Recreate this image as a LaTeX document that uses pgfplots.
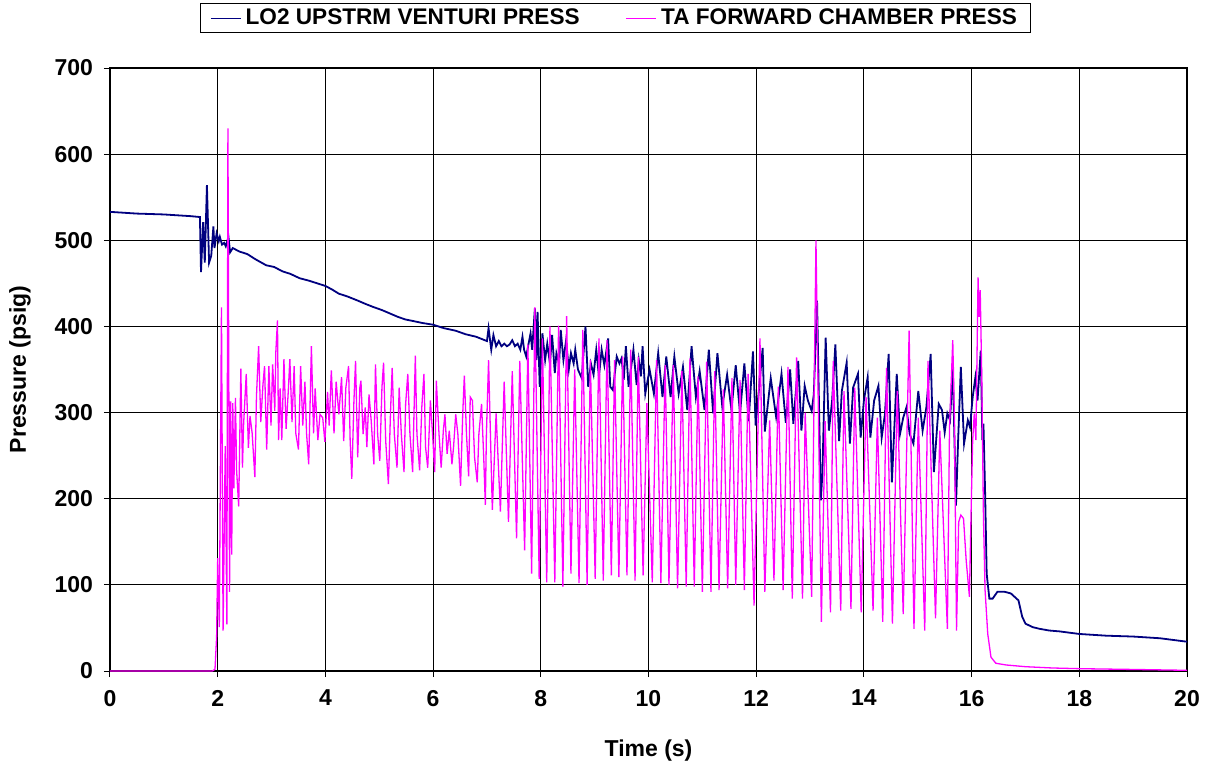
\documentclass[border=0pt]{standalone}
\usepackage{fontspec}
\setmainfont{Liberation Sans}
\usepackage{pgfplots}
\pgfplotsset{compat=1.18}

\definecolor{lox}{HTML}{000080}
\definecolor{tafwd}{HTML}{FF00FF}

\begin{document}
\begin{tikzpicture}
\begin{axis}[
  at={(0,0)}, anchor=south west,
  width=538.5pt, height=301.5pt, scale only axis,
  xmin=0, xmax=20, ymin=0, ymax=700,
  xtick={0,2,...,20}, ytick={0,100,...,700},
  grid=major, major grid style={black, line width=0.5pt},
  axis line style={black, line width=0.6pt},
  tick align=outside, tick pos=left, major tick length=3pt,
  tick style={black, line width=0.5pt},
  /pgf/number format/assume math mode=true,
  tick label style={font=\fontsize{11.5}{13}\selectfont\bfseries},
  xticklabel style={yshift=-3pt},
  yticklabel style={xshift=-2pt},
  xlabel={Time (s)}, ylabel={Pressure (psig)},
  label style={font=\fontsize{11.5}{13}\selectfont\bfseries},
  xlabel style={at={(axis description cs:0.5,-0.1327)}, anchor=center},
  ylabel style={at={(axis description cs:-0.0836,0.5)}, anchor=center},
  legend columns=2,
  legend style={at={(0.4694,1.107)}, anchor=north, draw=black, line width=0.5pt,
    inner xsep=5pt, inner ysep=0.5pt,
    nodes={inner sep=2pt},
    font=\fontsize{11.3}{12}\selectfont\bfseries,
    /tikz/every even column/.append style={column sep=21pt}},
  legend image code/.code={\draw[#1, line width=0.75pt] (0pt,0pt) -- (15pt,0pt);},
]
% LO2 upstream venturi pressure
\addplot[lox, line width=0.9pt] coordinates {
(0,533) (0.5,531) (1.0,530) (1.5,528) (1.67,527) (1.69,463) (1.73,521) (1.76,474) (1.80,564) (1.84,474)
(1.88,482) (1.92,516) (1.94,491) (1.98,508) (2.02,499) (2.04,504) (2.08,495) (2.12,497) (2.15,493) (2.20,504)
(2.23,486) (2.28,491) (2.40,487) (2.55,484) (2.70,478) (2.90,471) (3.05,469) (3.20,464) (3.35,461) (3.52,456)
(3.70,453) (3.85,450) (4.00,447) (4.12,443) (4.25,438) (4.40,435) (4.60,430) (4.75,426) (4.87,423) (5.05,419)
(5.20,415) (5.35,411) (5.49,408) (5.65,406) (5.80,404) (6.00,402) (6.20,398) (6.42,395) (6.60,391) (6.80,388)
(7.00,383) (7.03,398) (7.08,373) (7.12,390) (7.17,377) (7.22,383) (7.27,377) (7.32,380) (7.37,377) (7.42,379)
(7.47,384) (7.52,377) (7.57,380) (7.62,373) (7.66,388) (7.69,373) (7.73,365) (7.77,379) (7.81,392) (7.84,373)
(7.89,421) (7.92,361) (7.94,417) (7.98,330) (8.03,392) (8.08,361) (8.12,380) (8.17,357) (8.21,390) (8.26,346)
(8.29,369) (8.34,357) (8.37,396) (8.42,361) (8.47,384) (8.52,350) (8.56,369) (8.61,357) (8.64,373) (8.69,350)
(8.76,340) (8.83,400) (8.88,330) (8.93,357) (8.98,344) (9.03,373) (9.08,342) (9.13,373) (9.18,355) (9.25,386)
(9.29,330) (9.34,326) (9.41,365) (9.46,357) (9.50,363) (9.54,338) (9.58,377) (9.63,330) (9.72,373) (9.78,332)
(9.82,361) (9.86,342) (9.89,377) (9.94,322) (10.02,350) (10.10,322) (10.18,369) (10.26,318) (10.33,365) (10.41,318)
(10.48,365) (10.56,322) (10.64,353) (10.72,303) (10.80,377) (10.88,318) (10.95,348) (11.04,303) (11.12,373) (11.20,299)
(11.28,369) (11.37,307) (11.46,344) (11.54,303) (11.62,355) (11.70,299) (11.78,357) (11.86,290) (11.94,371) (11.99,285)
(12.12,375) (12.16,278) (12.27,340) (12.37,295) (12.47,345) (12.55,288) (12.63,350) (12.69,287) (12.78,360) (12.84,279)
(12.90,331) (12.96,314) (13.03,302) (13.07,321) (13.13,430) (13.20,198) (13.23,230) (13.29,387) (13.35,279) (13.41,314)
(13.47,379) (13.54,267) (13.59,325) (13.68,358) (13.74,264) (13.80,329) (13.89,345) (13.94,271) (14.00,314) (14.07,341)
(14.12,271) (14.19,314) (14.27,331) (14.33,271) (14.39,298) (14.46,368) (14.52,219) (14.61,345) (14.67,275) (14.73,294)
(14.79,306) (14.85,275) (14.92,264) (15.01,325) (15.09,279) (15.16,306) (15.24,368) (15.30,231) (15.39,310) (15.45,303)
(15.50,277) (15.55,299) (15.60,291) (15.65,353) (15.71,192) (15.75,268) (15.80,353) (15.86,264) (15.93,291) (15.97,283)
(16.02,318) (16.07,341) (16.11,314) (16.17,372) (16.20,268) (16.22,287) (16.25,210) (16.28,113) (16.33,84) (16.39,84)
(16.48,92) (16.61,92) (16.73,90) (16.87,82) (16.94,63) (17.00,55) (17.13,51) (17.26,49) (17.44,47) (17.63,46)
(18.0,43) (18.5,41) (19.0,40) (19.5,38) (20.0,34)
};
\addlegendentry{LO2 UPSTRM VENTURI PRESS}
% TA forward chamber pressure
\addplot[tafwd, line width=0.65pt] coordinates {
(0,0) (1.90,0) (1.95,2) (1.98,40) (2.00,131) (2.03,51) (2.07,422) (2.10,47) (2.14,261) (2.17,54)
(2.19,630) (2.22,92) (2.24,313) (2.26,135) (2.28,311) (2.30,212) (2.33,317) (2.35,234) (2.39,191) (2.43,351)
(2.46,236) (2.48,285) (2.53,345) (2.57,259) (2.60,296) (2.64,276) (2.69,225) (2.72,319) (2.76,377) (2.80,289)
(2.84,332) (2.87,354) (2.91,257) (2.95,354) (2.99,285) (3.02,356) (3.06,302) (3.08,371) (3.11,407) (3.13,268)
(3.16,328) (3.19,268) (3.23,362) (3.27,281) (3.31,324) (3.34,362) (3.38,289) (3.42,354) (3.45,276) (3.50,257)
(3.54,354) (3.58,285) (3.62,336) (3.65,276) (3.69,240) (3.74,377) (3.78,276) (3.81,328) (3.86,268) (3.90,298)
(3.95,294) (3.99,266) (4.04,324) (4.07,285) (4.11,349) (4.16,276) (4.20,336) (4.25,298) (4.30,341) (4.34,267)
(4.38,329) (4.43,354) (4.46,267) (4.49,223) (4.53,314) (4.56,360) (4.60,248) (4.64,329) (4.66,337) (4.70,275)
(4.74,306) (4.77,260) (4.81,321) (4.85,291) (4.90,240) (4.93,356) (4.97,275) (5.01,244) (5.05,329) (5.08,358)
(5.12,267) (5.17,217) (5.21,302) (5.24,352) (5.28,275) (5.33,236) (5.37,329) (5.41,275) (5.46,231) (5.49,310)
(5.53,345) (5.57,275) (5.62,231) (5.67,366) (5.70,275) (5.75,233) (5.79,306) (5.83,345) (5.86,260) (5.90,236)
(5.95,314) (5.99,275) (6.03,231) (6.06,337) (6.11,275) (6.15,236) (6.19,279) (6.22,298) (6.26,252) (6.30,279)
(6.35,240) (6.38,260) (6.42,298) (6.46,275) (6.51,215) (6.55,298) (6.58,343) (6.62,275) (6.66,226) (6.69,318)
(6.73,314) (6.77,248) (6.82,219) (6.85,275) (6.90,310) (6.94,248) (6.97,193) (6.99,275) (7.03,361) (7.10,187)
(7.17,299) (7.25,185) (7.32,336) (7.40,173) (7.47,348) (7.55,154) (7.61,360) (7.70,140) (7.76,379) (7.83,113)
(7.89,422) (7.97,107) (8.03,386) (8.11,103) (8.17,400) (8.26,103) (8.33,401) (8.41,98) (8.48,412) (8.56,113)
(8.63,350) (8.71,102) (8.78,396) (8.86,100) (8.92,361) (9.01,107) (9.08,386) (9.16,105) (9.23,384) (9.31,111)
(9.37,361) (9.45,109) (9.52,365) (9.60,111) (9.67,373) (9.75,105) (9.81,365) (9.90,111) (9.97,311) (10.07,103)
(10.15,361) (10.23,102) (10.31,355) (10.38,100) (10.46,355) (10.54,96) (10.62,348) (10.70,98) (10.77,363) (10.85,98)
(10.92,342) (11.00,92) (11.08,359) (11.16,92) (11.23,348) (11.31,94) (11.39,327) (11.47,96) (11.55,340) (11.62,100)
(11.70,338) (11.78,94) (11.85,345) (11.96,76) (12.07,386) (12.16,92) (12.25,291) (12.33,105) (12.41,330) (12.50,94)
(12.59,353) (12.67,84) (12.75,364) (12.86,84) (12.91,300) (13.03,86) (13.11,500) (13.21,57) (13.28,290) (13.38,68)
(13.43,360) (13.57,70) (13.63,325) (13.76,72) (13.83,329) (13.95,68) (14.04,318) (14.17,70) (14.25,294) (14.35,57)
(14.42,352) (14.53,55) (14.62,325) (14.73,66) (14.84,395) (14.93,49) (15.01,294) (15.13,47) (15.19,360) (15.33,61)
(15.41,279) (15.55,49) (15.59,283) (15.65,384) (15.68,299) (15.72,47) (15.76,173) (15.80,181) (15.85,177) (15.90,128)
(15.96,86) (15.99,183) (16.02,268) (16.05,299) (16.08,268) (16.12,457) (16.14,411) (16.16,442) (16.19,337) (16.22,179)
(16.25,94) (16.30,43) (16.36,16) (16.45,9) (16.64,7) (17.0,5) (17.5,3.5) (18,2.7) (19,1.8) (20,0.8)
};
\addlegendentry{TA FORWARD CHAMBER PRESS}
\end{axis}
\pgfresetboundingbox
\path[use as bounding box] (-55pt,-50.5pt) rectangle (553pt,335.5pt);
\end{tikzpicture}
\end{document}
